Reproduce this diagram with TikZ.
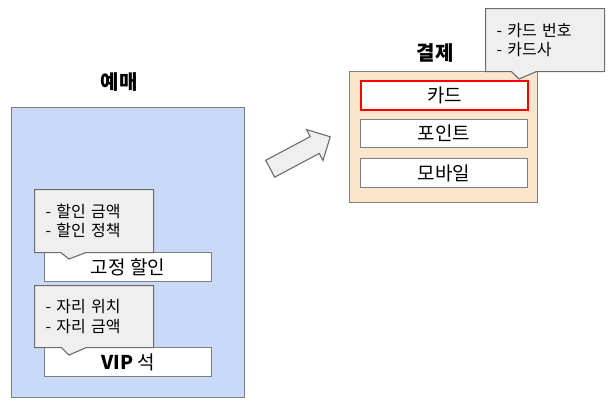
\documentclass[tikz,border=0pt]{standalone}
\usepackage{fontspec}
\setmainfont{Noto Sans CJK KR}
\usetikzlibrary{shapes.callouts,shapes.arrows}
\definecolor{bluefill}{HTML}{C9DAF8}
\definecolor{orangefill}{HTML}{FCE5CD}
\definecolor{notefill}{HTML}{EFEFEF}
\definecolor{edgegray}{HTML}{7F7F7F}
\begin{document}
\begin{tikzpicture}[x=1pt,y=-1pt,line width=1.1pt,line join=miter,
 panel/.style={draw=edgegray,rectangle,inner sep=0pt,anchor=north west},
 item/.style={panel,fill=white,font=\fontsize{19}{22}\selectfont},
 note/.style={rectangle callout,draw=edgegray!85!black,fill=notefill,
   anchor=north west,align=left,text width=97pt,inner xsep=11pt,inner ysep=0pt,
   minimum width=119pt,callout pointer width=25pt,
   font=\fontsize{16}{19.5}\selectfont},
 title/.style={font=\fontsize{20}{24}\selectfont\bfseries}]
\useasboundingbox (0,0) rectangle (612,405);
% reservation
\node[title] (yemaeT) at (119,82) {예매};
\node[panel,fill=bluefill,minimum width=233pt,minimum height=290pt] (yemae) at (11,107) {};
\node[item,minimum width=167pt,minimum height=29pt] (fixed) at (44,252) {고정 할인};
\node[note,minimum height=63pt,callout absolute pointer={(69,259)}] (fixedNote) at (34,189)
  {- 할인 금액\\- 할인 정책};
\node[item,minimum width=167pt,minimum height=29pt] (vip) at (44,347)
  {\textbf{VIP} 석};
\node[note,minimum height=62pt,callout absolute pointer={(69,355)}] (vipNote) at (34,285)
  {- 자리 위치\\- 자리 금액};
% arrow
\node[single arrow,draw=edgegray!85!black,fill=notefill,rotate=28,inner xsep=0pt,inner ysep=9pt,
  minimum height=68pt,minimum width=34pt,single arrow head extend=8pt] (go) at (296,155) {};
% payment
\node[title] (payT) at (435,53) {결제};
\node[panel,fill=orangefill,minimum width=188pt,minimum height=131pt] (pay) at (349,71) {};
\node[item,draw=red,line width=2pt,minimum width=167pt,minimum height=29pt] (card) at (360,80) {카드};
\node[item,minimum width=167pt,minimum height=28pt] (point) at (360,119) {포인트};
\node[item,minimum width=167pt,minimum height=29pt] (mobile) at (360,158) {모바일};
\node[note,minimum width=118pt,minimum height=63pt,callout absolute pointer={(519,79)}] (cardNote) at (485,8)
  {- 카드 번호\\- 카드사};
\end{tikzpicture}
\end{document}
